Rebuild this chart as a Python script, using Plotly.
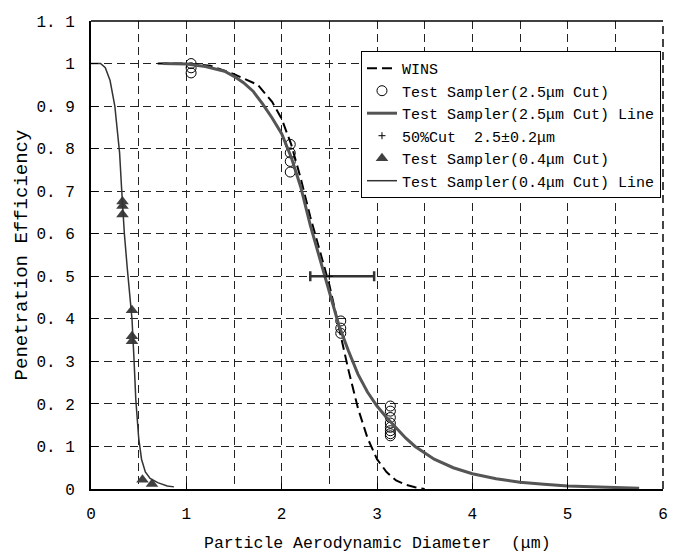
import plotly.graph_objects as go

# WINS reference curve
wins_x = [0.7, 1.0, 1.25, 1.5, 1.75, 1.9, 2.0, 2.1, 2.2, 2.3, 2.4, 2.5, 2.6, 2.7, 2.8, 2.9, 3.0, 3.1, 3.2, 3.3, 3.4, 3.5]
wins_y = [1.0, 1.0, 0.995, 0.975, 0.95, 0.91, 0.87, 0.81, 0.73, 0.64, 0.56, 0.48, 0.38, 0.28, 0.19, 0.12, 0.07, 0.04, 0.02, 0.01, 0.004, 0.0]

# Test sampler 2.5 um cut: measured points
ts25_x = [1.05, 1.05, 1.05, 2.09, 2.09, 2.09, 2.09, 2.62, 2.62, 2.62,
          3.14, 3.14, 3.14, 3.14, 3.14, 3.14, 3.14, 3.14]
ts25_y = [1.0, 0.99, 0.978, 0.81, 0.79, 0.77, 0.745, 0.395, 0.378, 0.366,
          0.195, 0.183, 0.168, 0.155, 0.145, 0.137, 0.13, 0.125]

# Test sampler 2.5 um cut: fitted line
ts25L_x = [0.75, 1.0, 1.2, 1.4, 1.5, 1.6, 1.7, 1.8, 1.9, 2.0, 2.1, 2.2, 2.3, 2.4, 2.5, 2.6, 2.7, 2.8, 2.9, 3.0,
           3.1, 3.2, 3.3, 3.4, 3.6, 3.8, 4.0, 4.25, 4.5, 4.75, 5.0, 5.25, 5.5, 5.75]
ts25L_y = [1.0, 0.999, 0.993, 0.982, 0.97, 0.955, 0.935, 0.905, 0.872, 0.835, 0.78, 0.71, 0.62, 0.54, 0.46, 0.385, 0.325, 0.27, 0.228, 0.195,
           0.168, 0.143, 0.12, 0.1, 0.07, 0.05, 0.036, 0.024, 0.016, 0.011, 0.007, 0.005, 0.003, 0.002]

# 50% cut marker and its horizontal bar
cut_x = [2.5]
cut_y = [0.5]
cut_err_plus = [0.47]
cut_err_minus = [0.2]

# Test sampler 0.4 um cut: measured points
ts04_x = [0.33, 0.33, 0.33, 0.43, 0.43, 0.43, 0.54, 0.64]
ts04_y = [0.676, 0.665, 0.645, 0.42, 0.359, 0.347, 0.022, 0.012]

# Test sampler 0.4 um cut: fitted line
ts04L_x = [0.0, 0.1, 0.15, 0.2, 0.25, 0.28, 0.3, 0.32, 0.35, 0.38, 0.41, 0.43, 0.45, 0.47, 0.5, 0.53, 0.57, 0.62, 0.7, 0.8, 0.87]
ts04L_y = [1.0, 1.0, 0.99, 0.96, 0.9, 0.84, 0.79, 0.71, 0.6, 0.52, 0.45, 0.4, 0.31, 0.21, 0.12, 0.07, 0.04, 0.025, 0.015, 0.007, 0.005]

x_ticks = [0, 1, 2, 3, 4, 5, 6]
y_ticks = [0, 0.1, 0.2, 0.3, 0.4, 0.5, 0.6, 0.7, 0.8, 0.9, 1.0, 1.1]
y_tick_text = ["0", "0. 1", "0. 2", "0. 3", "0. 4", "0. 5", "0. 6", "0. 7", "0. 8", "0. 9", "1", "1. 1"]
x_title = "Particle Aerodynamic Diameter\u00a0 (μm)"
y_title = "Penetration Efficiency"

FONT = "Liberation Mono, DejaVu Sans Mono, monospace"
GRID = "#222222"
DASH = "8px,5px"

fig = go.Figure()
fig.add_trace(go.Scatter(x=wins_x, y=wins_y, mode="lines", name="WINS",
                         line=dict(color="black", width=2, dash="10px,5px")))
fig.add_trace(go.Scatter(x=ts25_x, y=ts25_y, mode="markers", name="Test Sampler(2.5μm Cut)",
                         marker=dict(symbol="circle-open", size=10, color="black", line=dict(width=1))))
fig.add_trace(go.Scatter(x=ts25L_x, y=ts25L_y, mode="lines", name="Test Sampler(2.5μm Cut) Line",
                         line=dict(color="#555555", width=3)))
fig.add_trace(go.Scatter(x=cut_x, y=cut_y, mode="markers", name="50%Cut\u00a0 2.5±0.2μm",
                         marker=dict(symbol="cross-thin", size=5, color="black", line=dict(width=1, color="black")),
                         error_x=dict(type="data", symmetric=False, array=cut_err_plus, arrayminus=cut_err_minus,
                                      color="#333333", thickness=2.5, width=5)))
fig.add_trace(go.Scatter(x=ts04_x, y=ts04_y, mode="markers", name="Test Sampler(0.4μm Cut)",
                         marker=dict(symbol="triangle-up", size=11, color="#404040")))
fig.add_trace(go.Scatter(x=ts04L_x, y=ts04L_y, mode="lines", name="Test Sampler(0.4μm Cut) Line",
                         line=dict(color="#333333", width=1.5)))

# the page body adds an 8 px margin, so the figure is sized to fit inside it
fig.update_layout(
    width=669, height=548,
    margin=dict(l=83, r=14, t=13, b=67),
    plot_bgcolor="white", paper_bgcolor="white",
    font=dict(family=FONT, size=16, color="black"),
    showlegend=True,
    legend=dict(x=0.472, y=0.936, xanchor="left", yanchor="top",
                bgcolor="white", bordercolor="black", borderwidth=1,
                font=dict(family=FONT, size=15), tracegroupgap=0, itemwidth=30),
    xaxis=dict(range=[0, 6], tickvals=x_ticks, ticks="inside", ticklen=6, tickcolor="black",
               showline=True, linecolor="black", linewidth=2, automargin=False,
               showgrid=True, gridcolor=GRID, gridwidth=1, griddash=DASH,
               minor=dict(dtick=0.5, showgrid=True, gridcolor=GRID, gridwidth=1, griddash=DASH, ticks=""),
               zeroline=False, ticklabelstandoff=9,
               tickfont=dict(size=16)),
    yaxis=dict(range=[0, 1.1], tickvals=y_ticks, ticktext=y_tick_text, ticks="inside", ticklen=7, tickcolor="black",
               showline=True, linecolor="black", linewidth=2, automargin=False,
               showgrid=True, gridcolor=GRID, gridwidth=1, griddash=DASH,
               zeroline=False, ticklabelstandoff=11,
               title=dict(text=y_title, standoff=4, font=dict(size=19)),
               tickfont=dict(size=16)),
)
fig.add_annotation(text=x_title, xref="paper", yref="paper", x=0.5, y=0,
                   xanchor="center", yanchor="middle", yshift=-54, showarrow=False,
                   font=dict(family=FONT, size=16.5, color="black"))
fig.add_shape(type="line", xref="paper", yref="paper", x0=0, x1=1, y0=1, y1=1,
              line=dict(color="black", width=1.5))
fig.add_shape(type="line", xref="paper", yref="paper", x0=1, x1=1, y0=0, y1=1,
              line=dict(color="#444444", width=2, dash=DASH))
fig.write_html("out.html")
